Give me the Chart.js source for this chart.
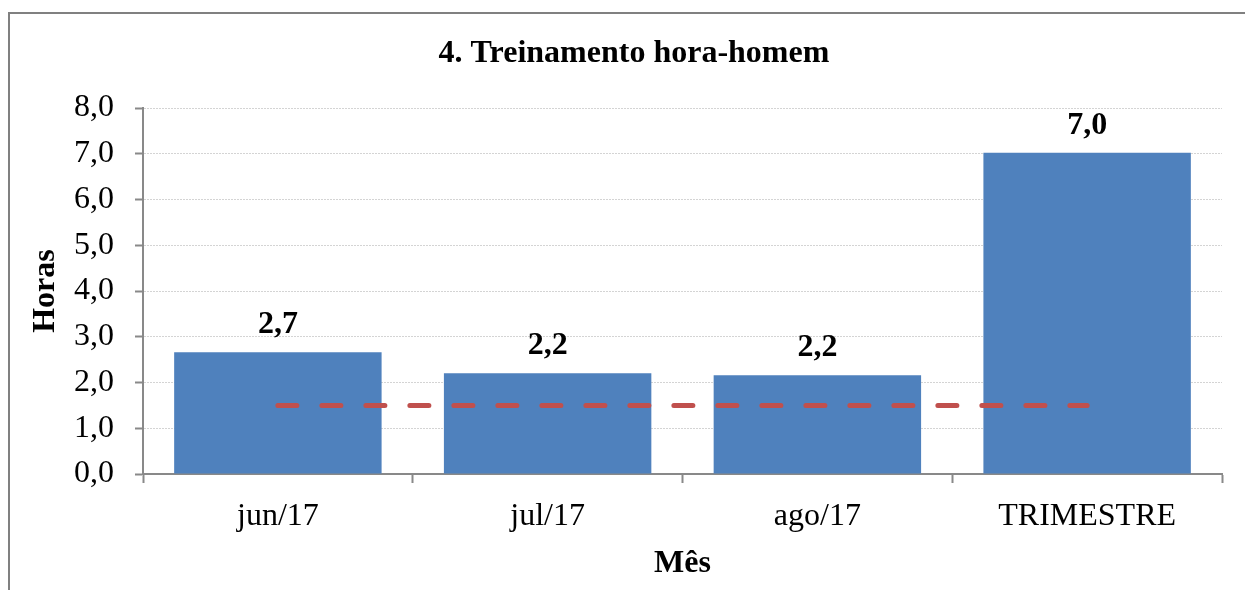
<!DOCTYPE html>
<html><head><meta charset="utf-8">
<script src="https://cdn.jsdelivr.net/npm/chart.js@4.4.0/dist/chart.umd.min.js"></script>
<style>html,body{margin:0;padding:0;background:#fff;overflow:hidden}#wrap{position:relative;width:1245px;height:590px}</style>
</head><body><div id="wrap"><canvas id="c" width="1245" height="590"></canvas></div>
<script>
const chartTitle = '4. Treinamento hora-homem';
const categories = ['jun/17', 'jul/17', 'ago/17', 'TRIMESTRE'];
const horas = [2.66, 2.2, 2.16, 7.02];
const meta = [1.5, 1.5, 1.5, 1.5];
const yAxisTitle = 'Horas';
const xAxisTitle = 'Mês';
const yMin = 0, yMax = 8, yStep = 1;

const FONT = "'Liberation Serif', 'Times New Roman', serif";
const fmt = v => v.toFixed(1).replace('.', ',');

const framePlugin = {
  id: 'frame',
  beforeDraw(chart) {
    const ctx = chart.ctx;
    ctx.save();
    ctx.fillStyle = '#fff';
    ctx.fillRect(0, 0, chart.width, chart.height);
    ctx.strokeStyle = '#808080';
    ctx.lineWidth = 2;
    ctx.beginPath();
    ctx.moveTo(9, 600);
    ctx.lineTo(9, 13);
    ctx.lineTo(1260, 13);
    ctx.stroke();
    ctx.fillStyle = '#000';
    ctx.font = 'bold 32px ' + FONT;
    ctx.textAlign = 'center';
    ctx.textBaseline = 'middle';
    ctx.fillText(chartTitle, 634, 54);
    ctx.restore();
  }
};

const labelPlugin = {
  id: 'barLabels',
  afterDatasetsDraw(chart) {
    const ctx = chart.ctx;
    const m = chart.getDatasetMeta(1);
    ctx.save();
    ctx.fillStyle = '#000';
    ctx.font = 'bold 32px ' + FONT;
    ctx.textAlign = 'center';
    ctx.textBaseline = 'alphabetic';
    m.data.forEach((el, i) => {
      ctx.fillText(fmt(horas[i]), el.x, el.y - 19);
    });
    ctx.restore();
  }
};

Chart.defaults.font.family = FONT;
Chart.defaults.color = '#000';

new Chart(document.getElementById('c'), {
  data: {
    labels: categories,
    datasets: [
      {
        type: 'line',
        label: 'Meta',
        data: meta,
        borderColor: '#C0504D',
        borderWidth: 5,
        borderDash: [19, 25],
        borderCapStyle: 'round',
        pointRadius: 0,
        fill: false,
        order: 0
      },
      {
        type: 'bar',
        label: 'Horas',
        data: horas,
        backgroundColor: '#4F81BD',
        borderWidth: 0,
        categoryPercentage: 1,
        barPercentage: 0.769,
        order: 1
      }
    ]
  },
  plugins: [framePlugin, labelPlugin],
  options: {
    responsive: false,
    devicePixelRatio: 1,
    animation: false,
    layout: { padding: { left: 0, right: 23, top: 108, bottom: 0 } },
    plugins: {
      legend: { display: false },
      title: { display: false },
      tooltip: { enabled: false }
    },
    scales: {
      x: {
        offset: true,
        grid: {
          offset: true,
          drawOnChartArea: false,
          drawTicks: true,
          tickLength: 9,
          tickColor: '#898989',
          tickWidth: 2
        },
        border: { display: true, color: '#898989', width: 2 },
        ticks: { padding: 14, font: { size: 32 }, color: '#000', maxRotation: 0 },
        title: { display: true, text: xAxisTitle, font: { size: 32, weight: 'bold' }, color: '#000', padding: { top: 0, bottom: 7 } },
        afterFit(s) { s.height = 116; }
      },
      y: {
        min: yMin,
        max: yMax,
        grid: {
          color: '#d4d4d4',
          lineWidth: 1,
          drawTicks: true,
          tickLength: 8,
          tickColor: '#898989',
          tickWidth: 2,
          tickBorderDash: []
        },
        border: { display: true, color: '#898989', width: 2, dash: [2, 1] },
        ticks: { stepSize: yStep, padding: 21, font: { size: 32 }, color: '#000', callback: v => fmt(v) },
        title: { display: true, text: yAxisTitle, font: { size: 32, weight: 'bold' }, color: '#000', padding: { top: 27, bottom: 0 } },
        afterFit(s) { s.width = 143; }
      }
    }
  }
});
</script>
</body></html>
